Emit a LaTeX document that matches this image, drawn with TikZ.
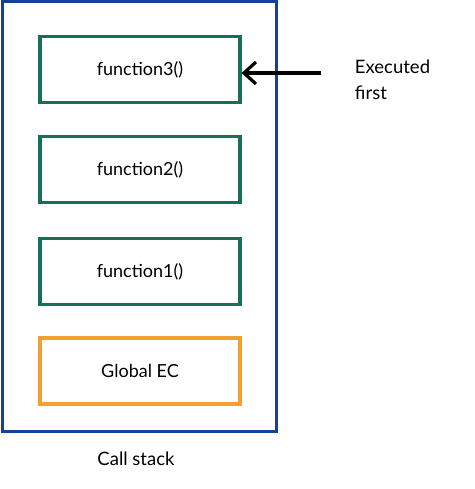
\documentclass[tikz,border=0pt]{standalone}
\usepackage{fontspec}
\setmainfont{Lato}
\usetikzlibrary{arrows.meta}

\definecolor{stackblue}{RGB}{16,68,150}
\definecolor{ecgreen}{RGB}{20,112,86}
\definecolor{ecorange}{RGB}{242,160,50}

\tikzset{
  ecbox/.style={draw, line width=3.2pt, minimum width=200pt, minimum height=66pt, inner sep=0pt, font=\fontsize{18}{22}\selectfont},
  fnbox/.style={ecbox, draw=ecgreen},
  globalbox/.style={ecbox, draw=ecorange},
  plaintext/.style={inner sep=0.75pt, font=\fontsize{18.5}{26}\selectfont}
}

\begin{document}
\begin{tikzpicture}[x=1pt,y=1pt,yscale=-1,xscale=1]
\useasboundingbox (0,0) rectangle (474,489);

%Shape: Call stack frame
\draw [stackblue, line width=3pt] (2.5,1.5) rectangle (276.5,431);

%Shape: Execution contexts
\node [fnbox] (fthree) at (140,69.5) {function3()};
\node [fnbox] (ftwo) at (140,169.5) {function2()};
\node [fnbox] (fone) at (140,271.5) {function1()};
\node [globalbox] (global) at (140,371) {Global EC};

%Straight Lines
\coordinate (arrowstart) at (321,73);
\draw [line width=3.2pt, -{Straight Barb[length=12pt, width=22pt]}] (arrowstart) -- (fthree.east |- arrowstart);

% Text Node
\node [plaintext, anchor=west, align=left] (firstnote) at (354,80) {Executed\\first};
% Text Node
\node [plaintext] (stacklabel) at (136,459) {Call stack};

\end{tikzpicture}
\end{document}
